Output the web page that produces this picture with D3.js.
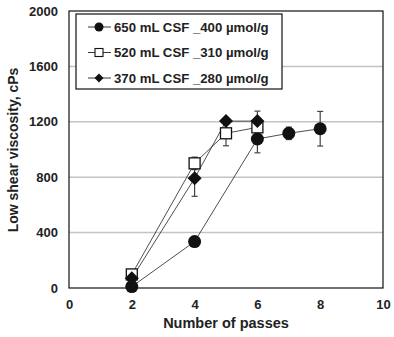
<!DOCTYPE html>
<html>
<head>
<meta charset="utf-8">
<script src="https://cdn.jsdelivr.net/npm/d3@7"></script>
<style>
  body { margin: 0; background: #fff; }
  text { font-family: Arial, "Liberation Sans", sans-serif; fill: #222; }
</style>
</head>
<body>
<div id="container"></div>
<script>
const xTicks = [0, 2, 4, 6, 8, 10];
const yTicks = [0, 400, 800, 1200, 1600, 2000];

// 650 mL CSF _400 µmol/g
const passes650 = [2, 4, 6, 7, 8];
const visc650 = [10, 335, 1076, 1117, 1150];
const err650 = [0, 0, 100, 45, 125];

// 520 mL CSF _310 µmol/g
const passes520 = [2, 4, 5, 6];
const visc520 = [98, 900, 1117, 1160];
const err520 = [0, 45, 90, 0];

// 370 mL CSF _280 µmol/g
const passes370 = [2, 4, 5, 6];
const visc370 = [70, 792, 1205, 1205];
const err370 = [0, 130, 0, 72];

const labels = ["650 mL CSF _400 µmol/g", "520 mL CSF _310 µmol/g", "370 mL CSF _280 µmol/g"];
const symbols = ["circle", "square", "diamond"];

const w = 394;
const h = 337;
const plotL = 69, plotR = 383, plotT = 11, plotB = 288;

const svg = d3
  .select("#container")
  .append("svg")
  .attr("width", w)
  .attr("height", h);

const xScale = d3.scaleLinear().domain([0, 10]).range([plotL, plotR]);
const yScale = d3.scaleLinear().domain([0, 2000]).range([plotB, plotT]);

// gridlines
svg
  .append("g")
  .selectAll("line")
  .data(yTicks.slice(1, -1))
  .enter()
  .append("line")
  .attr("x1", plotL)
  .attr("x2", plotR)
  .attr("y1", (d) => yScale(d))
  .attr("y2", (d) => yScale(d))
  .attr("stroke", "#c4c4c4")
  .attr("stroke-width", 1.5);

// axes (labels only, frame drawn separately)
const xAxis = d3.axisBottom(xScale).tickValues(xTicks).tickSize(0).tickPadding(10).tickFormat(d3.format("d"));
const yAxis = d3.axisLeft(yScale).tickValues(yTicks).tickSize(0).tickPadding(11).tickFormat(d3.format("d"));

const gx = svg.append("g").attr("transform", `translate(0, ${plotB})`).call(xAxis);
const gy = svg.append("g").attr("transform", `translate(${plotL}, 0)`).call(yAxis);
[gx, gy].forEach((g) => {
  g.select(".domain").remove();
  g.selectAll("text")
    .attr("font-size", 13)
    .attr("font-weight", "bold")
    .attr("fill", "#222")
    .style("font-family", "Arial, 'Liberation Sans', sans-serif");
});
gx.selectAll("text").attr("dy", "0.85em");

svg
  .append("rect")
  .attr("x", plotL)
  .attr("y", plotT)
  .attr("width", plotR - plotL)
  .attr("height", plotB - plotT)
  .attr("fill", "none")
  .attr("stroke", "#111")
  .attr("stroke-width", 1.2);

svg
  .append("text")
  .attr("x", 226)
  .attr("y", 328)
  .attr("text-anchor", "middle")
  .attr("font-size", 14.5)
  .attr("font-weight", "bold")
  .text("Number of passes");

svg
  .append("text")
  .attr("transform", `translate(18, 150) rotate(-90)`)
  .attr("text-anchor", "middle")
  .attr("font-size", 14)
  .attr("font-weight", "bold")
  .text("Low shear viscosity, cPs");

function drawMarker(g, type, x, y) {
  if (type === "circle") {
    g.append("circle").attr("cx", x).attr("cy", y).attr("r", 6.5).attr("fill", "#111");
  } else if (type === "square") {
    g.append("rect")
      .attr("x", x - 5.5).attr("y", y - 5.5)
      .attr("width", 11).attr("height", 11)
      .attr("fill", "#fff").attr("stroke", "#111").attr("stroke-width", 1.3);
  } else {
    const s = 7;
    g.append("path")
      .attr("d", `M${x},${y - s}L${x + s},${y}L${x},${y + s}L${x - s},${y}Z`)
      .attr("fill", "#111");
  }
}

const series = [
  { xs: passes650, ys: visc650, es: err650, sym: symbols[0] },
  { xs: passes520, ys: visc520, es: err520, sym: symbols[1] },
  { xs: passes370, ys: visc370, es: err370, sym: symbols[2] },
];

const line = d3.line().x((d) => xScale(d[0])).y((d) => yScale(d[1]));

const plot = svg.append("g");

series.forEach((s) => {
  const pts = s.xs.map((x, i) => [x, s.ys[i], s.es[i]]);
  plot
    .append("path")
    .attr("d", line(pts))
    .attr("fill", "none")
    .attr("stroke", "#222")
    .attr("stroke-width", 0.8);
  pts.forEach((p) => {
    if (p[2] > 0) {
      const cx = xScale(p[0]);
      const y1 = yScale(p[1] - p[2]);
      const y2 = yScale(p[1] + p[2]);
      plot.append("line").attr("x1", cx).attr("x2", cx).attr("y1", y1).attr("y2", y2)
        .attr("stroke", "#444").attr("stroke-width", 1.2);
      [y1, y2].forEach((yy) => {
        plot.append("line").attr("x1", cx - 3).attr("x2", cx + 3).attr("y1", yy).attr("y2", yy)
          .attr("stroke", "#444").attr("stroke-width", 1.2);
      });
    }
  });
});

series.forEach((s) => {
  s.xs.forEach((x, i) => drawMarker(plot, s.sym, xScale(x), yScale(s.ys[i])));
});

// legend
const legend = svg.append("g");
legend
  .append("rect")
  .attr("x", 76)
  .attr("y", 14)
  .attr("width", 206)
  .attr("height", 75)
  .attr("fill", "#fff")
  .attr("stroke", "#111")
  .attr("stroke-width", 1.2);

labels.forEach((lab, i) => {
  const yy = 27 + i * 25.5;
  legend.append("line").attr("x1", 88).attr("x2", 111).attr("y1", yy).attr("y2", yy)
    .attr("stroke", "#222").attr("stroke-width", 0.9);
  const m = legend.append("g");
  if (symbols[i] === "circle") {
    m.append("circle").attr("cx", 99).attr("cy", yy).attr("r", 4.5).attr("fill", "#111");
  } else if (symbols[i] === "square") {
    m.append("rect").attr("x", 95).attr("y", yy - 4).attr("width", 8).attr("height", 8)
      .attr("fill", "#fff").attr("stroke", "#111").attr("stroke-width", 1.1);
  } else {
    const s = 4.5;
    m.append("path").attr("d", `M99,${yy - s}L${99 + s},${yy}L99,${yy + s}L${99 - s},${yy}Z`)
      .attr("fill", "#111");
  }
  legend.append("text")
    .attr("x", 114)
    .attr("y", yy)
    .attr("dy", "0.35em")
    .attr("font-size", 13.2)
    .attr("font-weight", "bold")
    .text(lab);
});
</script>
</body>
</html>
